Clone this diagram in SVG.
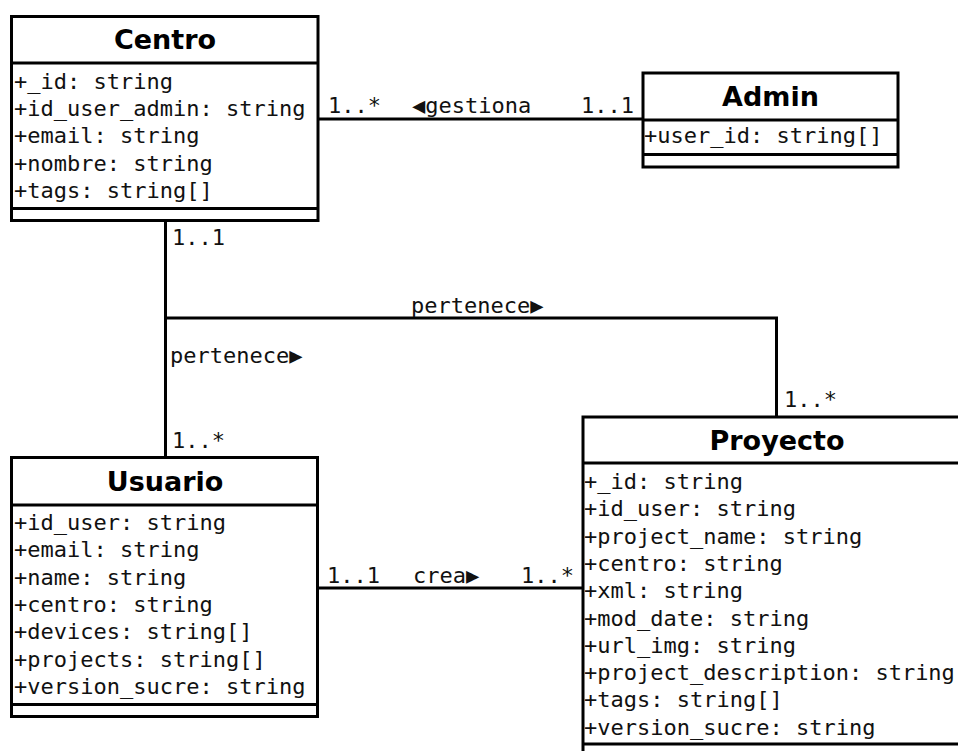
<svg xmlns="http://www.w3.org/2000/svg" width="958" height="751" viewBox="0 0 958 751">
  <style>
    .box { fill: #ffffff; stroke: #000000; stroke-width: 3; }
    .sep { stroke: #000000; stroke-width: 3; fill: none; }
    .title { font-family: "DejaVu Sans", "Liberation Sans", sans-serif; font-weight: bold; font-size: 27px; fill: #000000; text-anchor: middle; }
    .attr { font-family: "DejaVu Sans Mono", "Liberation Mono", monospace; font-size: 22px; fill: #111111; }
    .lbl { font-family: "DejaVu Sans Mono", "Liberation Mono", monospace; font-size: 22px; fill: #111111; }
    .edge { stroke: #000000; stroke-width: 3; fill: none; }
  </style>
  <rect width="958" height="751" fill="#ffffff"/>

  <!-- associations -->
  <g id="connectors">
    <path class="edge" d="M318 119 H643"/>
    <path class="edge" d="M165.5 220 V457"/>
    <path class="edge" d="M165.5 318 H776.5 V417"/>
    <path class="edge" d="M317 588 H583"/>
    <text class="lbl" x="328" y="113">1..*</text>
    <text class="lbl" x="412" y="113">◀gestiona</text>
    <text class="lbl" x="581" y="113">1..1</text>
    <text class="lbl" x="172" y="245">1..1</text>
    <text class="lbl" x="170" y="363">pertenece▶</text>
    <text class="lbl" x="172" y="448">1..*</text>
    <text class="lbl" x="411" y="313">pertenece▶</text>
    <text class="lbl" x="784" y="407">1..*</text>
    <text class="lbl" x="327" y="583">1..1</text>
    <text class="lbl" x="413" y="583">crea▶</text>
    <text class="lbl" x="521" y="583">1..*</text>
  </g>

  <!-- class Centro -->
  <g id="centro">
    <rect class="box" x="11.5" y="16.5" width="306.5" height="204"/>
    <path class="sep" d="M11.5 63 H318 M11.5 208.5 H318"/>
    <text class="title" x="165" y="49">Centro</text>
    <text class="attr" x="14" y="88.5">+_id: string</text>
    <text class="attr" x="14" y="116">+id_user_admin: string</text>
    <text class="attr" x="14" y="143.3">+email: string</text>
    <text class="attr" x="14" y="170.6">+nombre: string</text>
    <text class="attr" x="14" y="198">+tags: string[]</text>
  </g>

  <!-- class Admin -->
  <g id="admin">
    <rect class="box" x="643" y="73" width="255" height="94"/>
    <path class="sep" d="M643 120 H898 M643 154.5 H898"/>
    <text class="title" x="770.5" y="106">Admin</text>
    <text class="attr" x="644" y="143">+user_id: string[]</text>
  </g>

  <!-- class Usuario -->
  <g id="usuario">
    <rect class="box" x="11.5" y="457.5" width="306" height="259"/>
    <path class="sep" d="M11.5 505 H317.5 M11.5 704.5 H317.5"/>
    <text class="title" x="165" y="490.5">Usuario</text>
    <text class="attr" x="14" y="530">+id_user: string</text>
    <text class="attr" x="14" y="557.3">+email: string</text>
    <text class="attr" x="14" y="584.6">+name: string</text>
    <text class="attr" x="14" y="611.9">+centro: string</text>
    <text class="attr" x="14" y="639.2">+devices: string[]</text>
    <text class="attr" x="14" y="666.5">+projects: string[]</text>
    <text class="attr" x="14" y="693.8">+version_sucre: string</text>
  </g>

  <!-- class Proyecto -->
  <g id="proyecto">
    <rect class="box" x="583" y="417" width="388" height="360"/>
    <path class="sep" d="M583 463 H971 M583 744 H971"/>
    <text class="title" x="777" y="449.5">Proyecto</text>
    <text class="attr" x="584" y="489">+_id: string</text>
    <text class="attr" x="584" y="516.3">+id_user: string</text>
    <text class="attr" x="584" y="543.6">+project_name: string</text>
    <text class="attr" x="584" y="570.9">+centro: string</text>
    <text class="attr" x="584" y="598.2">+xml: string</text>
    <text class="attr" x="584" y="625.5">+mod_date: string</text>
    <text class="attr" x="584" y="652.8">+url_img: string</text>
    <text class="attr" x="584" y="680.1">+project_description: string</text>
    <text class="attr" x="584" y="707.4">+tags: string[]</text>
    <text class="attr" x="584" y="734.7">+version_sucre: string</text>
  </g>
</svg>
